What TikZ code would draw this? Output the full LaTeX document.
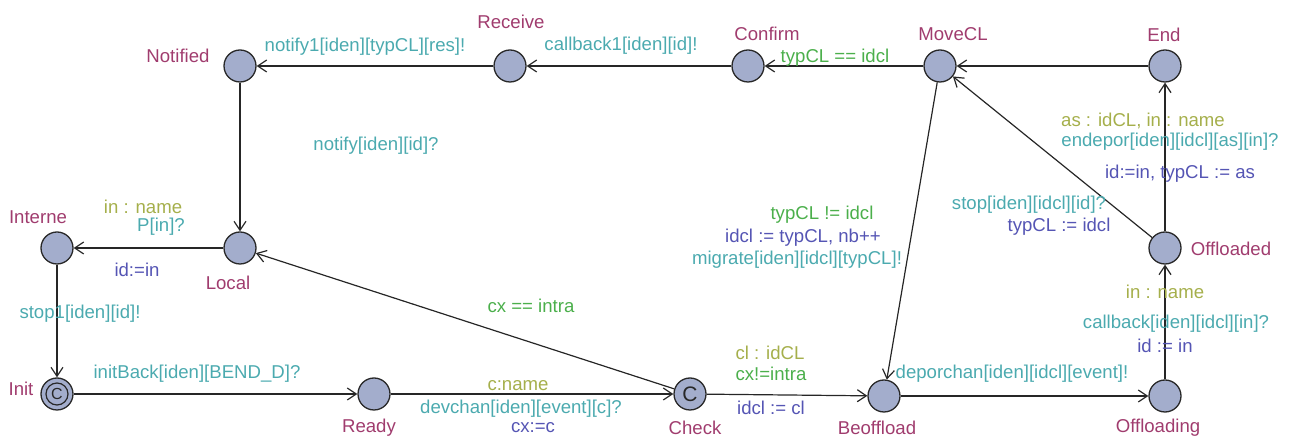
\documentclass[tikz,border=0pt]{standalone}
\usepackage{fontspec}
\setmainfont{Liberation Sans}
\usetikzlibrary{arrows.meta}
\definecolor{locname}{RGB}{160,60,110}
\definecolor{synccol}{RGB}{75,170,175}
\definecolor{guardcol}{RGB}{75,175,75}
\definecolor{selcol}{RGB}{165,175,75}
\definecolor{updcol}{RGB}{85,85,180}
\definecolor{locfill}{RGB}{163,173,204}
\definecolor{locdraw}{RGB}{40,40,40}
\tikzset{
  loc/.style={circle,draw=locdraw,fill=locfill,line width=0.65pt,minimum size=16pt,inner sep=0pt},
  txt/.style={inner sep=0pt,font=\fontsize{9.3}{11}\selectfont},
  lname/.style={txt,text=locname},
  sync/.style={txt,text=synccol},
  guard/.style={txt,text=guardcol},
  sel/.style={txt,text=selcol},
  upd/.style={txt,text=updcol},
  edge/.style={draw=black!85,line width=0.6pt,-{Straight Barb[length=4.5pt,width=6pt]}}
}
\begin{document}
\begin{tikzpicture}[x=0.5pt,y=-0.5pt]
\useasboundingbox (0,0) rectangle (1296,437);
% locations
\node[loc] (Notified) at (240,66) {};
\node[loc] (Receive) at (510,66) {};
\node[loc] (Confirm) at (748,66) {};
\node[loc] (MoveCL) at (940,66) {};
\node[loc] (End) at (1165,66) {};
\node[loc] (Interne) at (57,248) {};
\node[loc] (Local) at (240,248) {};
\node[loc] (Offloaded) at (1165,248) {};
\node[loc] (Init) at (57,394) {};
\node[circle,draw=locdraw,line width=0.6pt,minimum size=11pt,inner sep=0pt] (InitIn) at (Init) {};
\node[txt,font=\fontsize{8}{9}\selectfont,text=locdraw] (InitC) at (Init) {C};
\node[loc] (Ready) at (374,394) {};
\node[loc,font=\fontsize{10.5}{11}\selectfont,text=locdraw] (Check) at (690,394) {C};
\node[loc] (Beoffload) at (884,396) {};
\node[loc] (Offloading) at (1165,396) {};
% location names
\node[lname] (nNotified) at (178,56) {Notified};
\node[lname] (nReceive) at (511,22) {Receive};
\node[lname] (nConfirm) at (767,34) {Confirm};
\node[lname] (nMoveCL) at (953,34) {MoveCL};
\node[lname] (nEnd) at (1164,35) {End};
\node[lname] (nInterne) at (38,217) {Interne};
\node[lname] (nLocal) at (228,283) {Local};
\node[lname] (nOffloaded) at (1231,249) {Offloaded};
\node[lname] (nInit) at (21,389) {Init};
\node[lname] (nReady) at (369,428) {Ready};
\node[lname] (nCheck) at (695,428) {Check};
\node[lname] (nBeoffload) at (877,428) {Beoffload};
\node[lname] (nOffloading) at (1158,428) {Offloading};
% edges
\draw[edge] (Receive) -- (Notified);
\draw[edge] (Confirm) -- (Receive);
\draw[edge] (MoveCL) -- (Confirm);
\draw[edge] (End) -- (MoveCL);
\draw[edge] (Notified) -- (Local);
\draw[edge] (Local) -- (Interne);
\draw[edge] (Interne) -- (Init);
\draw[edge] (Init) -- (Ready);
\draw[edge] (Ready) -- (Check);
\draw[edge] (Check) -- (Local);
\draw[edge] (Check) -- (Beoffload);
\draw[edge] (MoveCL) -- (Beoffload);
\draw[edge] (Beoffload) -- (Offloading);
\draw[edge] (Offloading) -- (Offloaded);
\draw[edge] (Offloaded) -- (End);
\draw[edge] (Offloaded) -- (MoveCL);
% edge labels
\node[sync] (l1) at (365,47) {notify1[iden][typCL][res]!};
\node[sync] (l2) at (621,46) {callback1[iden][id]!};
\node[guard] (l3) at (835,58) {typCL == idcl};
\node[sync] (l4) at (376,146) {notify[iden][id]?};
\node[sel] (l5) at (143,207) {in : name};
\node[sync] (l6) at (161,227) {P[in]?};
\node[upd] (l7) at (137,270) {id:=in};
\node[sync] (l8) at (80,314) {stop1[iden][id]!};
\node[sync] (l9) at (197,374) {initBack[iden][BEND\_D]?};
\node[sel] (l10) at (518,386) {c:name};
\node[sync] (l11) at (521,409) {devchan[iden][event][c]?};
\node[upd] (l12) at (533,428) {cx:=c};
\node[guard] (l13) at (531,306) {cx == intra};
\node[sel] (l14) at (770,353) {cl : idCL};
\node[guard] (l15) at (771,374) {cx!=intra};
\node[upd] (l16) at (771,408) {idcl := cl};
\node[guard] (l17) at (822,215) {typCL != idcl};
\node[upd] (l18) at (803,238) {idcl := typCL, nb++};
\node[sync] (l19) at (797,260) {migrate[iden][idcl][typCL]!};
\node[sync] (l20) at (1012,374) {deporchan[iden][idcl][event]!};
\node[sel] (l21) at (1165,292) {in : name};
\node[sync] (l22) at (1176,324) {callback[iden][idcl][in]?};
\node[upd] (l23) at (1165,346) {id := in};
\node[sel] (l24) at (1143,121) {as : idCL, in : name};
\node[sync] (l25) at (1170,142) {endepor[iden][idcl][as][in]?};
\node[upd] (l26) at (1180,174) {id:=in, typCL := as};
\node[sync] (l27) at (1029,205) {stop[iden][idcl][id]?};
\node[upd] (l28) at (1059,227) {typCL := idcl};
\end{tikzpicture}
\end{document}
